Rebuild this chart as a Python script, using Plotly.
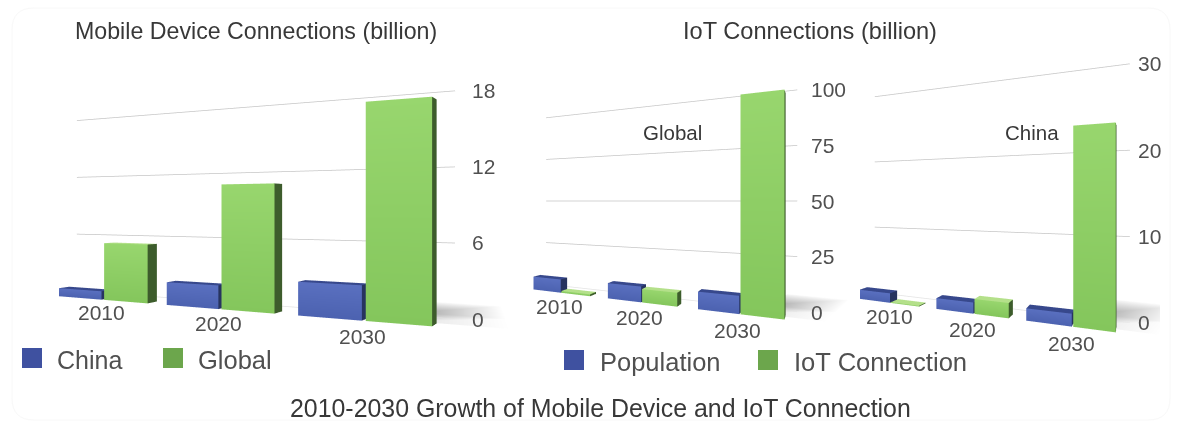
import plotly.graph_objects as go

# ---- chart values ----
years = ["2010", "2020", "2030"]

mobile_china = [0.8, 2.05, 2.75]
mobile_global = [5.4, 10.8, 17.0]
mobile_ticks = [0, 6, 12, 18]

iot_population_global = [7.2, 7.8, 8.1]
iot_connection_global = [1.0, 6.6, 97.0]
iot_global_ticks = [0, 25, 50, 75, 100]

iot_population_china = [1.3, 1.4, 1.45]
iot_connection_china = [0.1, 1.85, 22.6]
iot_china_ticks = [0, 10, 20, 30]

WIDTH, HEIGHT = 1182, 421
TEXT = "#505050"
HEADING = "#383838"
FONT = "Liberation Sans"
SCALE = 1 / 40  # world units to camera-space units

BLUE = dict(front=("#5a70c0", "#4c62b0"), side="#27345f", top="#37488c")
GREEN = dict(front=("#98d66e", "#84c65c"), side="#3d5c2c", top="#b4e08a")

# Per-panel geometry: viewport, world-per-value factor, camera pose and bar layout.
PANELS = [
    dict(name="scene", px=(20, 520), h=416, v=1.0, cam=(38.1, -42.2, 8.76), ab=(0.933, 0.359),
         wall=37.5, groups=(6.0, 18.45, 30.9), w_a=5.2, w_b=4.9, gap=0.15, front=-3.2, depth=1.1, shear=0.246,
         zr=(-2.5, 19), xshift=15, year_z=-1.25, year_dx=-1,
         a=mobile_china, b=mobile_global, ticks=mobile_ticks, names=("China", "Global")),
    dict(name="scene2", px=(520, 860), h=402, v=0.18, cam=(38.74, -38.68, 9.0), ab=(0.8786, 0.4777),
         wall=27.6, groups=(4.9, 14.4, 23.8), w_a=3.7, w_b=3.6, gap=0.05, front=-2.9, depth=1.2, shear=-0.24,
         zr=(-12, 104), xshift=12, year_z=-7.4, year_dx=-2,
         a=iot_population_global, b=iot_connection_global, ticks=iot_global_ticks,
         names=("Population", "IoT Connection")),
    dict(name="scene3", px=(860, 1160), h=396, v=0.6, cam=(31.32, -33.3, 8.68), ab=(0.8874, 0.461),
         wall=23.4, groups=(4.3, 12.4, 20.2), w_a=3.4, w_b=2.9, gap=0.05, front=-2.75, depth=1.2, shear=-0.23,
         zr=(-3.5, 31), xshift=6, year_z=-1.9, year_dx=-1,
         a=iot_population_china, b=iot_connection_china, ticks=iot_china_ticks,
         names=("Population", "IoT Connection")),
]

FLAT_LIGHT = dict(ambient=1.0, diffuse=0.0, specular=0.0, fresnel=0.0)


def bar_mesh(p, lefts, widths, values, palette, name):
    """Front, right and top faces of every bar in one series, as one mesh."""
    xs, ys, zs, i, j, k, colors = [], [], [], [], [], [], []
    y0, dy, dx = p["front"], p["depth"], p["depth"] * p["shear"]

    def quad(corners, cols):
        n = len(xs)
        for (cx, cy, cz), col in zip(corners, cols):
            xs.append(cx)
            ys.append(cy)
            zs.append(cz)
            colors.append(col)
        i.extend([n, n])
        j.extend([n + 1, n + 2])
        k.extend([n + 2, n + 3])

    for x0, w, val in zip(lefts, widths, values):
        x1 = x0 + w
        hi, lo = palette["front"]
        quad([(x0, y0, 0), (x1, y0, 0), (x1, y0, val), (x0, y0, val)], [lo, lo, hi, hi])
        quad([(x1, y0, 0), (x1 + dx, y0 + dy, 0), (x1 + dx, y0 + dy, val), (x1, y0, val)],
             [palette["side"]] * 4)
        quad([(x0, y0, val), (x1, y0, val), (x1 + dx, y0 + dy, val), (x0 + dx, y0 + dy, val)],
             [palette["top"]] * 4)
    return go.Mesh3d(x=xs, y=ys, z=zs, i=i, j=j, k=k, vertexcolor=colors, name=name,
                     flatshading=True, hoverinfo="skip", showscale=False, scene=p["name"],
                     lighting=FLAT_LIGHT)


def floor_shadow(p):
    """Soft grey patch on the floor beside the tallest bar, fading outwards."""
    x0, x1 = p["wall"] - 3, p["wall"] * 1.1
    rows = [-2.0, 1.5, 7.0]
    shades = [("#e6e6e6", "#ffffff"), ("#a6a6a6", "#ffffff"), ("#f8f8f8", "#ffffff")]
    xs, ys, cols = [], [], []
    for y, (near, far) in zip(rows, shades):
        xs += [x0, x1]
        ys += [y, y]
        cols += [near, far]
    return go.Mesh3d(x=xs, y=ys, z=[0] * 6, i=[0, 0, 2, 2], j=[1, 3, 3, 5], k=[3, 2, 5, 4],
                     vertexcolor=cols, hoverinfo="skip", showscale=False, scene=p["name"],
                     lighting=FLAT_LIGHT)


def scene_layout(p):
    xr = (-6.0, p["wall"] + 8)
    yr = (-6.0, 8.0)
    zr = p["zr"]
    v = p["v"]
    a, b = p["ab"]
    cx, cy, cz = p["cam"]
    mid = ((xr[0] + xr[1]) / 2, (yr[0] + yr[1]) / 2, (zr[0] + zr[1]) / 2 * v)

    def model(wx, wy, wz):
        return dict(x=(wx - mid[0]) * SCALE, y=(wy - mid[1]) * SCALE, z=(wz - mid[2]) * SCALE)

    notes = []
    for t in p["ticks"]:
        notes.append(dict(x=p["wall"], y=0, z=t, text=str(t), showarrow=False, xanchor="left",
                          yanchor="middle", xshift=p["xshift"],
                          font=dict(family=FONT, size=21, color=TEXT)))
    for g, year in zip(p["groups"], years):
        notes.append(dict(x=g, y=p["front"], z=p["year_z"], text=year, showarrow=False,
                          xanchor="center", yanchor="middle", xshift=p["year_dx"],
                          font=dict(family=FONT, size=21, color=TEXT)))
    hidden = dict(visible=False, showgrid=False, zeroline=False, showspikes=False)
    return dict(
        domain=dict(x=[p["px"][0] / WIDTH, p["px"][1] / WIDTH], y=[1 - p["h"] / HEIGHT, 1]),
        xaxis=dict(range=list(xr), **hidden),
        yaxis=dict(range=list(yr), **hidden),
        zaxis=dict(range=list(zr), **hidden),
        aspectmode="manual",
        aspectratio=dict(x=(xr[1] - xr[0]) * SCALE, y=(yr[1] - yr[0]) * SCALE,
                         z=(zr[1] - zr[0]) * v * SCALE),
        camera=dict(
            projection=dict(type="perspective"),
            up=dict(x=0, y=0, z=1),
            eye=model(cx, cy, cz),
            center=model(cx - b * 30, cy + a * 30, cz),
        ),
        bgcolor="rgba(0,0,0,0)",
        annotations=notes,
    )


fig = go.Figure()
layout_scenes = {}
for p in PANELS:
    fig.add_trace(floor_shadow(p))
    for t in p["ticks"]:
        is_zero = t == 0
        fig.add_trace(go.Scatter3d(
            x=[-1.5 if is_zero else 0, p["wall"]], y=[0, 0], z=[t, t], mode="lines",
            line=dict(color="#e4e4e4" if is_zero else "#c6c6c6", width=1.5),
            hoverinfo="skip", showlegend=False, scene=p["name"]))
    g = p["groups"]
    fig.add_trace(bar_mesh(p, [x - p["gap"] - p["w_a"] for x in g], [p["w_a"]] * 3, p["a"], BLUE, p["names"][0]))
    fig.add_trace(bar_mesh(p, [x + p["gap"] for x in g], [p["w_b"]] * 3, p["b"], GREEN, p["names"][1]))
    layout_scenes[p["name"]] = scene_layout(p)


def px_x(x):
    return x / WIDTH


def px_y(y):
    return 1 - y / HEIGHT


def text(x, y, s, size, anchor="center", color=TEXT):
    return dict(x=px_x(x), y=px_y(y), xref="paper", yref="paper", text=s, showarrow=False,
                xanchor=anchor, yanchor="middle", font=dict(family=FONT, size=size, color=color))


def swatch(x0, y0, color):
    return dict(type="rect", xref="paper", yref="paper", x0=px_x(x0), x1=px_x(x0 + 20),
                y0=px_y(y0), y1=px_y(y0 + 20), fillcolor=color, line=dict(width=0))


annotations = [
    text(256, 31, "Mobile Device Connections (billion)", 23.2, color=HEADING),
    text(810, 31, "IoT Connections (billion)", 23.6, color=HEADING),
    text(601, 408, "2010-2030 Growth of Mobile Device and IoT Connection", 24.9, color=HEADING),
    text(672, 133, "Global", 20.5, color=HEADING),
    text(1032, 133, "China", 20.5, color=HEADING),
    text(55, 360, "China", 25, "left"),
    text(196, 360, "Global", 25.5, "left"),
    text(598, 362, "Population", 25.5, "left"),
    text(792, 362, "IoT Connection", 25.6, "left"),
]

L, T, R, B, C = px_x(12), px_y(8), px_x(1170), px_y(420), 22
frame = (f"M {px_x(12 + C)} {T} L {px_x(1170 - C)} {T} Q {R} {T} {R} {px_y(8 + C)} "
         f"L {R} {px_y(420 - C)} Q {R} {B} {px_x(1170 - C)} {B} L {px_x(12 + C)} {B} "
         f"Q {L} {B} {L} {px_y(420 - C)} L {L} {px_y(8 + C)} Q {L} {T} {px_x(12 + C)} {T} Z")

shapes = [
    dict(type="path", xref="paper", yref="paper", path=frame, fillcolor="#ffffff",
         line=dict(color="#f8f8f8", width=1), layer="below"),
    swatch(22, 348, "#3f51a0"),
    swatch(163, 348, "#6ca64c"),
    swatch(564, 350, "#3f51a0"),
    swatch(758, 350, "#6ca64c"),
]

fig.update_layout(
    width=WIDTH,
    height=HEIGHT,
    margin=dict(l=0, r=0, t=0, b=0),
    paper_bgcolor="#ffffff",
    showlegend=False,
    annotations=annotations,
    shapes=shapes,
    **layout_scenes,
)

fig.write_html("out.html", config=dict(displayModeBar=False))
